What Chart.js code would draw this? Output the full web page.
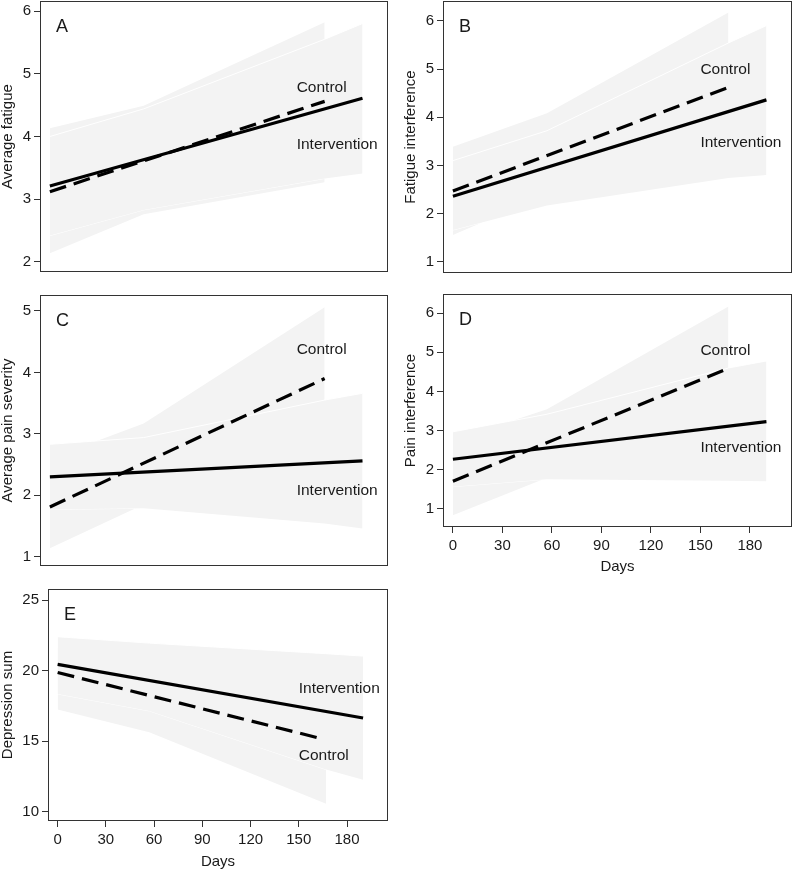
<!DOCTYPE html>
<html>
<head>
<meta charset="utf-8">
<script src="https://cdn.jsdelivr.net/npm/chart.js@4"></script>
<style>
  html, body { margin: 0; padding: 0; background: #fff; }
  #wrap { position: relative; width: 793px; height: 871px; overflow: hidden; }
  #wrap canvas { position: absolute; }
</style>
</head>
<body>
<div id="wrap"></div>
<script>
// x axis (days)
const dayTicks = [0, 30, 60, 90, 120, 150, 180];
const ctrlBandDays = [0, 57, 167];
const intBandDays = [0, 57, 167, 190];
const intLineDays = [0, 190];
const ctrlLineDays = [0, 167];
const ctrlLineDaysE = [0, 164];
const labelDay = 150;

// A - average fatigue
const fatigueTicks = [2, 3, 4, 5, 6];
const fatigueCtrl = [3.12, 4.56];
const fatigueInt = [3.21, 4.61];
const fatigueCtrlUpper = [4.13, 4.49, 5.82];
const fatigueCtrlLower = [2.14, 2.76, 3.27];
const fatigueIntUpper = [4.0, 4.44, 5.55, 5.8];
const fatigueIntLower = [2.42, 2.83, 3.33, 3.41];
const fatigueLabels = [4.78, 3.87]; // control, intervention

// B - fatigue interference
const fatInterfTicks = [1, 2, 3, 4, 5, 6];
const fatInterfCtrl = [2.47, 4.62];
const fatInterfInt = [2.36, 4.36];
const fatInterfCtrlUpper = [3.39, 4.08, 6.17];
const fatInterfCtrlLower = [1.56, 2.4, 3.1];
const fatInterfIntUpper = [3.1, 3.72, 5.54, 5.9];
const fatInterfIntLower = [1.66, 2.17, 2.74, 2.8];
const fatInterfLabels = [4.98, 3.48];

// C - average pain severity
const painTicks = [1, 2, 3, 4, 5];
const painCtrl = [1.81, 3.9];
const painInt = [2.3, 2.56];
const painCtrlUpper = [2.6, 3.17, 5.06];
const painCtrlLower = [1.14, 1.85, 2.7];
const painIntUpper = [2.83, 2.94, 3.55, 3.66];
const painIntLower = [1.77, 1.79, 1.54, 1.46];
const painLabels = [4.37, 2.07];

// D - pain interference
const painInterfTicks = [1, 2, 3, 4, 5, 6];
const painInterfCtrl = [1.71, 4.59];
const painInterfInt = [2.27, 3.23];
const painInterfCtrlUpper = [2.75, 3.55, 6.17];
const painInterfCtrlLower = [0.84, 1.8, 2.9];
const painInterfIntUpper = [2.97, 3.42, 4.6, 4.78];
const painInterfIntLower = [1.57, 1.76, 1.72, 1.71];
const painInterfLabels = [5.04, 2.56];

// E - depression sum
const deprTicks = [10, 15, 20, 25];
const deprCtrl = [19.87, 15.19];
const deprInt = [20.44, 16.65];
const deprCtrlUpper = [21.6, 20.6, 19.6];
const deprCtrlLower = [17.25, 15.65, 10.58];
const deprIntUpper = [22.4, 21.95, 21.2, 21.03];
const deprIntLower = [18.35, 17.15, 13.0, 12.28];
const deprLabels = [13.96, 18.74];

const FONT = "'Liberation Sans', Arial, Helvetica, sans-serif";
const BAND = "#f3f3f3";
const INK = "#1a1a1a";

const panels = [
  { letter: "A", title: "Average fatigue", yMin: 1.84, yMax: 6.16, ticks: fatigueTicks, ctrl: fatigueCtrl, int: fatigueInt, cu: fatigueCtrlUpper, cl: fatigueCtrlLower, iu: fatigueIntUpper, il: fatigueIntLower, labels: fatigueLabels, ctrlDays: ctrlLineDays,
    box: { left: 0, top: 0, w: 390, h: 280 }, yw: 40, xh: 8, padTop: 1, padRight: 2, titlePad: 0, days: false },
  { letter: "B", title: "Fatigue interference", yMin: 0.77, yMax: 6.41, ticks: fatInterfTicks, ctrl: fatInterfCtrl, int: fatInterfInt, cu: fatInterfCtrlUpper, cl: fatInterfCtrlLower, iu: fatInterfIntUpper, il: fatInterfIntLower, labels: fatInterfLabels, ctrlDays: ctrlLineDays,
    box: { left: 395, top: 0, w: 398, h: 280 }, yw: 48, xh: 7, padTop: 1, padRight: 1, titlePad: 8, days: false },
  { letter: "C", title: "Average pain severity", yMin: 0.85, yMax: 5.26, ticks: painTicks, ctrl: painCtrl, int: painInt, cu: painCtrlUpper, cl: painCtrlLower, iu: painIntUpper, il: painIntLower, labels: painLabels, ctrlDays: ctrlLineDays,
    box: { left: 0, top: 290, w: 390, h: 280 }, yw: 40, xh: 4, padTop: 5, padRight: 2, titlePad: 0, days: false },
  { letter: "D", title: "Pain interference", yMin: 0.54, yMax: 6.49, ticks: painInterfTicks, ctrl: painInterfCtrl, int: painInterfInt, cu: painInterfCtrlUpper, cl: painInterfCtrlLower, iu: painInterfIntUpper, il: painInterfIntLower, labels: painInterfLabels, ctrlDays: ctrlLineDays,
    box: { left: 395, top: 289, w: 398, h: 290 }, yw: 48, xh: 52, padTop: 5, padRight: 1, titlePad: 8, days: true, daysPad: 3 },
  { letter: "E", title: "Depression sum", yMin: 9.36, yMax: 25.78, ticks: deprTicks, ctrl: deprCtrl, int: deprInt, cu: deprCtrlUpper, cl: deprCtrlLower, iu: deprIntUpper, il: deprIntLower, labels: deprLabels, ctrlDays: ctrlLineDaysE,
    box: { left: 0, top: 584, w: 390, h: 287 }, yw: 48, xh: 50, padTop: 5, padRight: 2, titlePad: 0, days: true, daysPad: 0 },
];

const pts = (xs, ys) => xs.map((x, i) => ({ x, y: ys[i] }));

// drop the label overhang padding so the plot box lands where the layout says
function noOverhang(s) {
  s.paddingTop = 0;
  s.paddingBottom = 0;
  s.paddingLeft = 0;
  s.paddingRight = 0;
}

// frame, panel letter and group labels
const decor = {
  id: "decor",
  afterDraw(chart, args, opts) {
    const { ctx, chartArea: a, scales } = chart;
    ctx.save();
    ctx.strokeStyle = "#333";
    ctx.lineWidth = 1;
    ctx.strokeRect(a.left + 0.5, a.top + 0.5, a.right - a.left - 1, a.bottom - a.top - 1);
    ctx.fillStyle = INK;
    ctx.textAlign = "left";
    ctx.textBaseline = "alphabetic";
    ctx.font = "18px " + FONT;
    ctx.fillText(opts.letter, a.left + 16, a.top + 31);
    ctx.font = "15.5px " + FONT;
    ctx.textBaseline = "middle";
    const x = scales.x.getPixelForValue(labelDay);
    ctx.fillText("Control", x, scales.y.getPixelForValue(opts.labels[0]));
    ctx.fillText("Intervention", x, scales.y.getPixelForValue(opts.labels[1]));
    ctx.restore();
  },
};

const wrap = document.getElementById("wrap");

for (const p of panels) {
  const cv = document.createElement("canvas");
  cv.width = p.box.w;
  cv.height = p.box.h;
  cv.style.left = p.box.left + "px";
  cv.style.top = p.box.top + "px";
  cv.style.width = p.box.w + "px";
  cv.style.height = p.box.h + "px";
  wrap.appendChild(cv);

  const none = "rgba(0,0,0,0)";
  const datasets = [
    { data: pts(ctrlBandDays, p.cu), fill: "+1", backgroundColor: BAND, borderColor: none, borderWidth: 0, order: 4 },
    { data: pts(ctrlBandDays, p.cl), fill: false, borderColor: none, borderWidth: 0, order: 4 },
    { data: pts(intBandDays, p.iu), fill: "+1", backgroundColor: BAND, borderColor: "#fff", borderWidth: 1, order: 3 },
    { data: pts(intBandDays, p.il), fill: false, borderColor: "#fff", borderWidth: 1, order: 3 },
    { data: pts(intLineDays, p.int), fill: false, borderColor: "#000", borderWidth: 3.2, order: 2 },
    { data: pts(p.ctrlDays, p.ctrl), fill: false, borderColor: "#000", borderWidth: 3.2, borderDash: [17, 8], order: 1 },
  ];

  const xScale = {
    type: "linear",
    min: -6,
    max: 205.5,
    afterBuildTicks: (s) => { s.ticks = dayTicks.map((v) => ({ value: v })); },
    afterFit: (s) => { s.height = p.xh; noOverhang(s); },
    border: { display: false },
  };
  if (p.days) {
    xScale.ticks = { font: { family: FONT, size: 15 }, color: INK, padding: 4, maxRotation: 0 };
    xScale.grid = { drawOnChartArea: false, drawTicks: true, tickLength: 6, tickColor: "#333", tickWidth: 1 };
    xScale.title = { display: true, text: "Days", font: { family: FONT, size: 15 }, color: INK, padding: { top: 0, bottom: p.daysPad } };
  } else {
    xScale.ticks = { display: false };
    xScale.grid = { display: false };
  }

  new Chart(cv.getContext("2d"), {
    type: "line",
    data: { datasets },
    plugins: [decor],
    options: {
      responsive: false,
      animation: false,
      events: [],
      elements: { point: { radius: 0 }, line: { tension: 0, borderCapStyle: "butt" } },
      layout: { padding: { top: p.padTop, right: p.padRight, left: 0, bottom: 0 } },
      plugins: {
        legend: { display: false },
        tooltip: { enabled: false },
        decor: { letter: p.letter, labels: p.labels },
      },
      scales: {
        x: xScale,
        y: {
          type: "linear",
          min: p.yMin,
          max: p.yMax,
          afterBuildTicks: (s) => { s.ticks = p.ticks.map((v) => ({ value: v })); },
          afterFit: (s) => { s.width = p.yw; noOverhang(s); },
          ticks: { font: { family: FONT, size: 15 }, color: INK, padding: 3 },
          grid: { drawOnChartArea: false, drawTicks: true, tickLength: 6, tickColor: "#333", tickWidth: 1 },
          border: { display: false },
          title: { display: true, text: p.title, font: { family: FONT, size: 15, lineHeight: 1.1 }, color: INK, padding: { top: p.titlePad, bottom: 0 } },
        },
      },
    },
  });
}
</script>
</body>
</html>
